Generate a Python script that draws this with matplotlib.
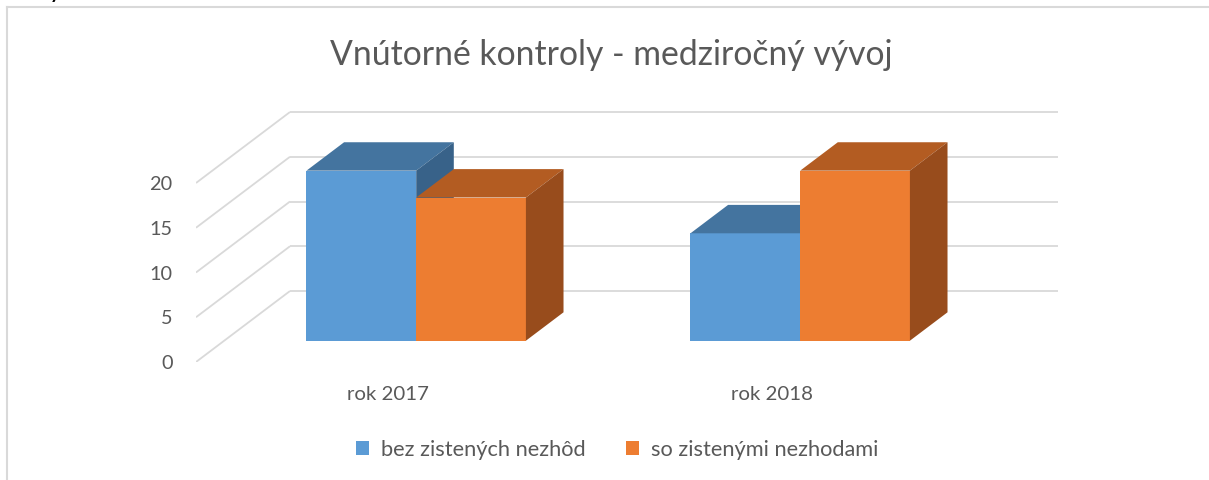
import matplotlib
matplotlib.use("Agg")
import matplotlib.pyplot as plt
from matplotlib.patches import Polygon, Patch
from matplotlib.lines import Line2D

# --- data -------------------------------------------------------------
categories = ["rok 2017", "rok 2018"]
series_names = ["bez zistených nezhôd", "so zistenými nezhodami"]
bez_nezhod = [19, 12]
so_nezhodami = [16, 19]
y_ticks = [0, 5, 10, 15, 20]
title = "Vnútorné kontroly - medziročný vývoj"

# --- style ------------------------------------------------------------
FONT = ["Lato", "DejaVu Sans"]
TEXT = "#595959"
GRID = "#D9D9D9"
front_colors = ["#5B9BD5", "#ED7D31"]
top_colors = ["#44749F", "#B35C22"]
side_colors = ["#386289", "#984C1C"]

plt.rcParams["font.family"] = FONT

W, H = 1209, 480
fig = plt.figure(figsize=(W / 100, H / 100), dpi=100)
fig.patch.set_facecolor("white")

# plot region in pixels (front floor left edge .. back wall right edge)
left_px, right_px, top_px, bottom_px = 196, 1058, 100, 362
ax = fig.add_axes([left_px / W, 1 - bottom_px / H,
                   (right_px - left_px) / W, (bottom_px - top_px) / H])

n_cat = len(categories)
px_per_cat = 384.0
px_per_unit = 8.95
depth_px = (94.0, 71.0)           # oblique offset of the full floor depth
DX = depth_px[0] / px_per_cat
DY = depth_px[1] / px_per_unit

ax.set_xlim(0, n_cat + DX)
ax.set_ylim(0, (bottom_px - top_px) / px_per_unit)
for s in ax.spines.values():
    s.set_visible(False)
ax.set_facecolor("none")

# walls: side wall diagonals + back wall gridlines
for v in y_ticks:
    ax.plot([0, DX], [v, v + DY], color=GRID, lw=1.3, zorder=1,
            solid_capstyle="butt")
    ax.plot([DX, n_cat + DX], [v + DY, v + DY], color=GRID, lw=1.3,
            zorder=1, solid_capstyle="butt")

# 3-D columns, gap width 150 %, gap depth 150 %
n_ser = 2
bar_w = 1.0 / (n_ser + 1.5)
f0, f1 = 0.3, 0.7
series = [bez_nezhod, so_nezhodami]
z = 2
for c in range(n_cat):
    for i in range(n_ser):
        v = series[i][c]
        x0 = c + 0.5 - bar_w * n_ser / 2 + i * bar_w
        x1 = x0 + bar_w
        ax.bar(x0 + f0 * DX, v, width=bar_w, bottom=f0 * DY, align="edge",
               color=front_colors[i], linewidth=0, zorder=z)
        top = [(x0 + f0 * DX, v + f0 * DY), (x1 + f0 * DX, v + f0 * DY),
               (x1 + f1 * DX, v + f1 * DY), (x0 + f1 * DX, v + f1 * DY)]
        side = [(x1 + f0 * DX, f0 * DY), (x1 + f1 * DX, f1 * DY),
                (x1 + f1 * DX, v + f1 * DY), (x1 + f0 * DX, v + f0 * DY)]
        ax.add_patch(Polygon(top, closed=True, facecolor=top_colors[i],
                             edgecolor="none", zorder=z))
        ax.add_patch(Polygon(side, closed=True, facecolor=side_colors[i],
                             edgecolor="none", zorder=z))
        z += 1

# axes labels
ax.set_yticks(y_ticks)
ax.set_yticklabels([str(t) for t in y_ticks])
ax.set_xticks([c + 0.5 for c in range(n_cat)])
ax.set_xticklabels(categories)
ax.tick_params(axis="both", length=0, labelcolor=TEXT)
ax.tick_params(axis="y", pad=17, labelsize=14.3)
ax.tick_params(axis="x", pad=17, labelsize=14.7)

# title
fig.text(611 / W, 1 - 55 / H, title, ha="center", va="center",
         fontsize=24.3, color=TEXT)

# legend
handles = [Patch(facecolor=front_colors[i], edgecolor="none")
           for i in range(n_ser)]
fig.legend(handles, series_names, loc="center", ncol=2, frameon=False,
           bbox_to_anchor=(617 / W, 1 - 450 / H), fontsize=15.7,
           labelcolor=TEXT, handlelength=0.6, handleheight=0.6,
           handletextpad=0.55, columnspacing=1.85)

# chart area border (top and left edges)
fig.add_artist(Line2D([7 / W, 7 / W], [0, 1 - 7 / H], color=GRID, lw=1.5,
                      transform=fig.transFigure))
fig.add_artist(Line2D([7 / W, 1], [1 - 7 / H, 1 - 7 / H], color=GRID,
                      lw=1.5, transform=fig.transFigure))

# fragment of the line of text above the chart
fig.text(50 / W, 1 + 1.5 / H, "y", ha="left", va="baseline", fontsize=14,
         color="black", fontweight="bold")

fig.savefig("out.png", dpi=100, facecolor="white")
